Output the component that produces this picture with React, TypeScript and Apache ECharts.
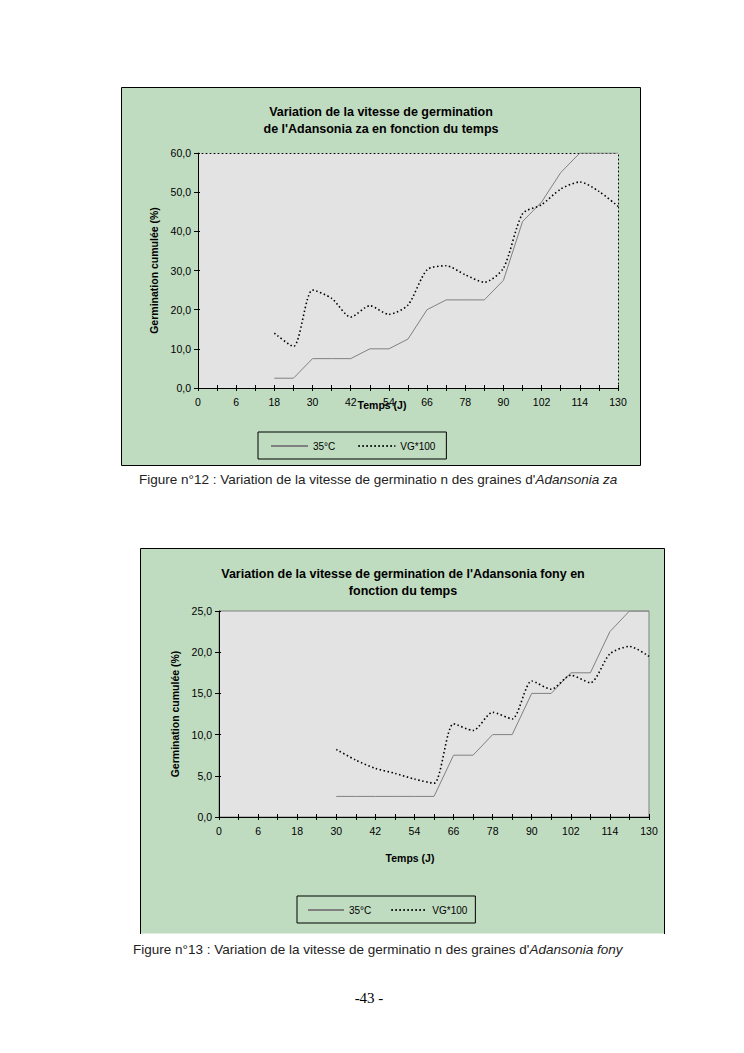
import React, { useEffect, useRef } from "react";
import * as echarts from "echarts";

// Shared time categories (days); only every other one is labelled
const categories = ["0", "3", "6", "12", "18", "24", "30", "36", "42", "48", "54", "60", "66", "72", "78", "84", "90", "96", "102", "108", "114", "120", "130"];

// Figure 12 – Adansonia za
const zaTitle = "Variation de la vitesse de germination\nde l'Adansonia za en fonction du temps";
const za35: (number | null)[] = [null, null, null, null, 2.5, 2.5, 7.5, 7.5, 7.5, 10, 10, 12.5, 20, 22.5, 22.5, 22.5, 27.5, 42.5, 47.5, 55, 60, 60, 60];
const zaVG: (number | null)[] = [null, null, null, null, 14.0, 10.6, 25.0, 22.9, 18.1, 21.0, 18.8, 21.2, 30.2, 31.2, 28.9, 27.0, 30.6, 44.5, 46.8, 50.8, 52.6, 50.2, 46.4];
const zaTicks = { min: 0, max: 60, interval: 10 };

// Figure 13 – Adansonia fony
const fonyTitle = "Variation de la vitesse de germination de l'Adansonia fony en\nfonction du temps";
const fony35: (number | null)[] = [null, null, null, null, null, null, 2.5, 2.5, 2.5, 2.5, 2.5, 2.5, 7.5, 7.5, 10, 10, 15, 15, 17.5, 17.5, 22.5, 25, 25];
const fonyVG: (number | null)[] = [null, null, null, null, null, null, 8.2, 6.9, 5.9, 5.3, 4.6, 4.1, 11.3, 10.5, 12.7, 11.9, 16.5, 15.5, 17.2, 16.3, 19.8, 20.7, 19.5];
const fonyTicks = { min: 0, max: 25, interval: 5 };

const seriesNames = ["35°C", "VG*100"];
const yName = "Germination cumulée (%)";
const xName = "Temps (J)";
const caption12 = ["Figure n°12 : Variation de la vitesse de germinatio n des graines d'", "Adansonia za"];
const caption13 = ["Figure n°13 : Variation de la vitesse de germinatio n des graines d'", "Adansonia fony"];
const pageNumber = "-43 -";

const SANS = "'Liberation Sans', Arial, sans-serif";
const SERIF = "'Liberation Serif', 'Times New Roman', serif";
const GREEN = "#c0dcc0";
const PLOT = "#e3e3e3";
const DOTS = [1.5, 2.5];

const fmt = (v: number) => v.toFixed(1).replace(".", ",");

export default function App() {
  const ref = useRef<HTMLDivElement>(null);
  useEffect(() => {
    if (!ref.current) return;
    const chart = echarts.init(ref.current, null, { renderer: "svg" });

    const mainX = (gridIndex: number) => ({
      type: "category",
      gridIndex,
      data: categories,
      boundaryGap: false,
      axisLine: { show: true, onZero: false, lineStyle: { color: "#000", width: 1 } },
      axisTick: { show: true, interval: 0, length: 3, lineStyle: { color: "#000" } },
      axisLabel: { interval: 1, color: "#000", fontSize: 10.5, fontFamily: SANS, margin: 8 },
      splitLine: { show: false },
      z: 5,
    });
    const innerX = (gridIndex: number) => ({
      type: "category",
      gridIndex,
      data: categories,
      boundaryGap: false,
      position: "bottom",
      axisLine: { show: false, onZero: false },
      axisTick: { show: true, inside: true, interval: 0, length: 3, lineStyle: { color: "#000" } },
      axisLabel: { show: false },
      splitLine: { show: false },
    });
    const mainY = (gridIndex: number, t: any, nameGap: number) => ({
      type: "value",
      gridIndex,
      min: t.min,
      max: t.max,
      interval: t.interval,
      name: yName,
      nameLocation: "middle",
      nameRotate: 90,
      nameGap,
      nameTextStyle: { color: "#000", fontSize: 10.5, fontWeight: "bold", fontFamily: SANS },
      axisLine: { show: true, onZero: false, lineStyle: { color: "#000", width: 1 } },
      axisTick: { show: true, length: 4, lineStyle: { color: "#000" } },
      axisLabel: { color: "#000", fontSize: 10.5, fontFamily: SANS, margin: 7, formatter: fmt },
      splitLine: { show: false },
      z: 5,
    });
    const innerY = (gridIndex: number, t: any) => ({
      type: "value",
      gridIndex,
      min: t.min,
      max: t.max,
      interval: t.interval,
      position: "left",
      axisLine: { show: false, onZero: false },
      axisTick: { show: true, inside: true, length: 2, lineStyle: { color: "#000" } },
      axisLabel: { show: false },
      splitLine: { show: false },
    });

    const legend = (left: number, top: number, gap: number, w: number, pad: number[]) => ({
      left,
      top,
      orient: "horizontal",
      padding: pad,
      itemGap: gap,
      itemWidth: w,
      itemHeight: 10,
      borderColor: "#000",
      borderWidth: 1,
      backgroundColor: GREEN,
      selectedMode: false,
      itemStyle: { opacity: 0, borderWidth: 0 },
      textStyle: { color: "#000", fontSize: 10, fontFamily: SANS },
      data: seriesNames,
    });

    const lineSeries = (name: string, data: (number | null)[], gi: number) => {
      const dotted = name === seriesNames[1];
      return {
        type: "line",
        name,
        xAxisIndex: gi === 0 ? 0 : 3,
        yAxisIndex: gi === 0 ? 0 : 3,
        data,
        symbol: "none",
        smooth: dotted ? 0.25 : false,
        lineStyle: dotted
          ? { color: "#000", width: 1.6, type: DOTS }
          : { color: "#808080", width: 1, type: "solid" },
        itemStyle: { color: dotted ? "#000" : "#808080" },
        z: 3,
      };
    };

    const captionStyle = (parts: string[]) => ({
      text: `{n|${parts[0]}}{i|${parts[1]}}`,
      rich: {
        n: { fontSize: 13.5, fontFamily: SANS, fill: "#222" },
        i: { fontSize: 13.5, fontFamily: SANS, fontStyle: "italic", fill: "#222" },
      },
    });

    chart.setOption({
      animation: false,
      backgroundColor: "#fff",
      grid: [
        { left: 198, top: 153, width: 420, height: 235, show: true, backgroundColor: PLOT, borderWidth: 0 },
        { left: 219, top: 611, width: 430, height: 206, show: true, backgroundColor: PLOT, borderWidth: 1, borderColor: "#808080" },
      ],
      xAxis: [
        mainX(0),
        innerX(0),
        {
          type: "category", gridIndex: 0, data: categories, boundaryGap: false, position: "top",
          axisLine: { show: true, onZero: false, lineStyle: { color: "#000", width: 1, type: [1, 3] } },
          axisTick: { show: false }, axisLabel: { show: false }, splitLine: { show: false },
        },
        mainX(1),
        innerX(1),
      ],
      yAxis: [
        mainY(0, zaTicks, 36),
        {
          type: "value", gridIndex: 0, min: zaTicks.min, max: zaTicks.max, interval: zaTicks.interval, position: "right",
          axisLine: { show: true, onZero: false, lineStyle: { color: "#000", width: 1, type: [1, 3] } },
          axisTick: { show: false }, axisLabel: { show: false }, splitLine: { show: false },
        },
        innerY(0, zaTicks),
        mainY(1, fonyTicks, 38),
        innerY(1, fonyTicks),
      ],
      legend: [
        legend(258, 432, 22, 37, [9, 11, 8, 12]),
        legend(297, 896, 19, 36, [9, 8, 8, 10]),
      ],
      series: [
        lineSeries(seriesNames[0], za35, 0),
        lineSeries(seriesNames[1], zaVG, 0),
        lineSeries(seriesNames[0], fony35, 1),
        lineSeries(seriesNames[1], fonyVG, 1),
      ],
      graphic: [
        { type: "rect", z: -10, shape: { x: 121.5, y: 87.5, width: 519, height: 378 }, style: { fill: GREEN, stroke: "#000", lineWidth: 1 } },
        { type: "rect", z: -10, shape: { x: 140.5, y: 548.5, width: 524, height: 385 }, style: { fill: GREEN } },
        { type: "polyline", z: -9, shape: { points: [[140.5, 934], [140.5, 548.5], [664.5, 548.5], [664.5, 934]] }, style: { fill: null, stroke: "#000", lineWidth: 1 } },
        {
          type: "text", x: 381, y: 103, z: 10,
          style: { text: zaTitle, fontSize: 12.5, fontWeight: "bold", fontFamily: SANS, fill: "#000", align: "center", lineHeight: 17 },
        },
        {
          type: "text", x: 403, y: 565, z: 10,
          style: { text: fonyTitle, fontSize: 12.5, fontWeight: "bold", fontFamily: SANS, fill: "#000", align: "center", lineHeight: 17 },
        },
        {
          type: "text", x: 382, y: 399, z: 10,
          style: { text: xName, fontSize: 10.5, fontWeight: "bold", fontFamily: SANS, fill: "#000", align: "center" },
        },
        {
          type: "text", x: 410, y: 852, z: 10,
          style: { text: xName, fontSize: 10.5, fontWeight: "bold", fontFamily: SANS, fill: "#000", align: "center" },
        },
        { type: "text", x: 139, y: 472, z: 10, style: captionStyle(caption12) },
        { type: "text", x: 133, y: 942, z: 10, style: captionStyle(caption13) },
        {
          type: "text", x: 369, y: 990, z: 10,
          style: { text: pageNumber, fontSize: 15, fontFamily: SERIF, fill: "#000", align: "center" },
        },
      ],
    });
    return () => chart.dispose();
  }, []);

  return (
    <div
      ref={ref}
      style={{ position: "absolute", left: 0, top: 0, width: 744, height: 1053, background: "#fff" }}
    />
  );
}
